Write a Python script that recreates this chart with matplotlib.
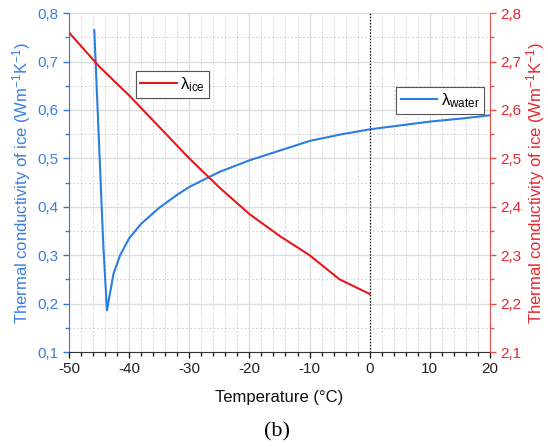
import matplotlib as mpl
from matplotlib import pyplot as plt
from matplotlib.ticker import MultipleLocator, FixedLocator, FixedFormatter

mpl.rcParams['font.family'] = ['Liberation Sans', 'DejaVu Sans']
mpl.rcParams['mathtext.default'] = 'regular'
mpl.rcParams['axes.unicode_minus'] = False

# water curve (left axis)
t_water = [-45.8, -44.3, -43.7, -42.6, -41.5, -40, -38, -35, -32, -30,
           -25, -20, -15, -10, -5, 0, 5, 10, 15, 20]
k_water = [0.765, 0.32, 0.186, 0.262, 0.30, 0.335, 0.365, 0.398, 0.425, 0.441,
           0.472, 0.496, 0.516, 0.536, 0.549, 0.56, 0.568, 0.576, 0.582, 0.589]

# ice curve (right axis)
t_ice = [-50, -45, -40, -35, -30, -25, -20, -15, -10, -5, 0]
k_ice = [2.76, 2.69, 2.63, 2.565, 2.50, 2.44, 2.385, 2.34, 2.30, 2.25, 2.22]

x_ticks = [-50, -40, -30, -20, -10, 0, 10, 20]
y1_ticks = [0.1, 0.2, 0.3, 0.4, 0.5, 0.6, 0.7, 0.8]
y1_labels = ['0,1', '0,2', '0,3', '0,4', '0,5', '0,6', '0,7', '0,8']
y2_ticks = [2.1, 2.2, 2.3, 2.4, 2.5, 2.6, 2.7, 2.8]
y2_labels = ['2,1', '2,2', '2,3', '2,4', '2,5', '2,6', '2,7', '2,8']

blue = '#2b7de0'
red = '#e3191c'
blue_txt = '#3a7fe6'
red_txt = '#e8262e'

fig = plt.figure(figsize=(5.48, 4.47), dpi=100)
ax1 = fig.add_axes([0.126, 0.2125, 0.768, 0.758])
ax2 = ax1.twinx()

line_w, = ax1.plot(t_water, k_water, color=blue, lw=1.5, label=r'$\lambda_{water}$')
ax1.axvline(0, color='black', lw=0.9, ls=(0, (1, 1.5)))
line_i, = ax2.plot(t_ice, k_ice, color=red, lw=1.5, label=r'$\lambda_{ice}$')

ax1.set_xlim(-50, 20)
ax1.set_ylim(0.1, 0.8)
ax2.set_ylim(2.1, 2.8)

ax1.xaxis.set_major_locator(FixedLocator(x_ticks))
ax1.xaxis.set_minor_locator(MultipleLocator(2))
ax1.yaxis.set_major_locator(FixedLocator(y1_ticks))
ax1.yaxis.set_major_formatter(FixedFormatter(y1_labels))
ax1.yaxis.set_minor_locator(MultipleLocator(0.05))
ax2.yaxis.set_major_locator(FixedLocator(y2_ticks))
ax2.yaxis.set_major_formatter(FixedFormatter(y2_labels))
ax2.yaxis.set_minor_locator(MultipleLocator(0.05))

ax1.grid(which='major', color='#dcdcdc', lw=1.0)
ax1.grid(which='minor', color='#d4d4d4', lw=0.7, ls=(0, (2, 2)))
ax1.set_axisbelow(True)

ax1.tick_params(axis='x', which='major', direction='out', length=4, width=1,
                labelsize=11, colors='#222222', pad=3)
ax1.tick_params(axis='x', which='minor', direction='out', length=3, width=1, colors='#222222')
ax1.tick_params(axis='y', which='major', direction='out', length=4, width=1,
                labelsize=11, colors=blue, labelcolor=blue_txt)
ax1.tick_params(axis='y', which='minor', direction='out', length=3, width=1, colors=blue)
ax2.tick_params(axis='y', which='major', direction='out', length=4, width=1,
                labelsize=11, colors='#f05050', labelcolor=red_txt)
ax2.tick_params(axis='y', which='minor', direction='out', length=3, width=1, colors='#f05050')

ax1.spines['left'].set_color(blue)
ax1.spines['bottom'].set_color('#333333')
ax1.spines['top'].set_visible(False)
ax1.spines['right'].set_visible(False)
ax2.spines['right'].set_color('#f05050')
ax2.spines['left'].set_visible(False)
ax2.spines['top'].set_visible(False)
ax2.spines['bottom'].set_visible(False)

ax1.set_xlabel('Temperature (°C)', fontsize=12, color='#111111', labelpad=10)
ax1.set_ylabel('Thermal conductivity of ice (Wm$^{-1}$K$^{-1}$)', fontsize=12,
               color=blue_txt, labelpad=3)
ax2.set_ylabel('Thermal conductivity of ice (Wm$^{-1}$K$^{-1}$)', fontsize=12,
               color=red_txt, labelpad=2)

leg_i = ax1.legend(handles=[line_i], loc='upper left', bbox_to_anchor=(0.159, 0.83),
                   fontsize=12, frameon=True, fancybox=False, edgecolor='#555555',
                   framealpha=1, handlelength=2.2, borderpad=0.25, handletextpad=0.2,
                   borderaxespad=0)
leg_i.get_frame().set_linewidth(0.8)
ax1.add_artist(leg_i)
leg_w = ax2.legend(handles=[line_w], loc='upper left', bbox_to_anchor=(0.778, 0.782),
                   fontsize=12, frameon=True, fancybox=False, edgecolor='#555555',
                   framealpha=1, handlelength=2.2, borderpad=0.25, handletextpad=0.2,
                   borderaxespad=0)
leg_w.get_frame().set_linewidth(0.8)

fig.text(0.505, 0.034, '(b)', family='Liberation Serif', fontsize=16,
         ha='center', va='center', color='black')

fig.savefig('out.png', dpi=100)
